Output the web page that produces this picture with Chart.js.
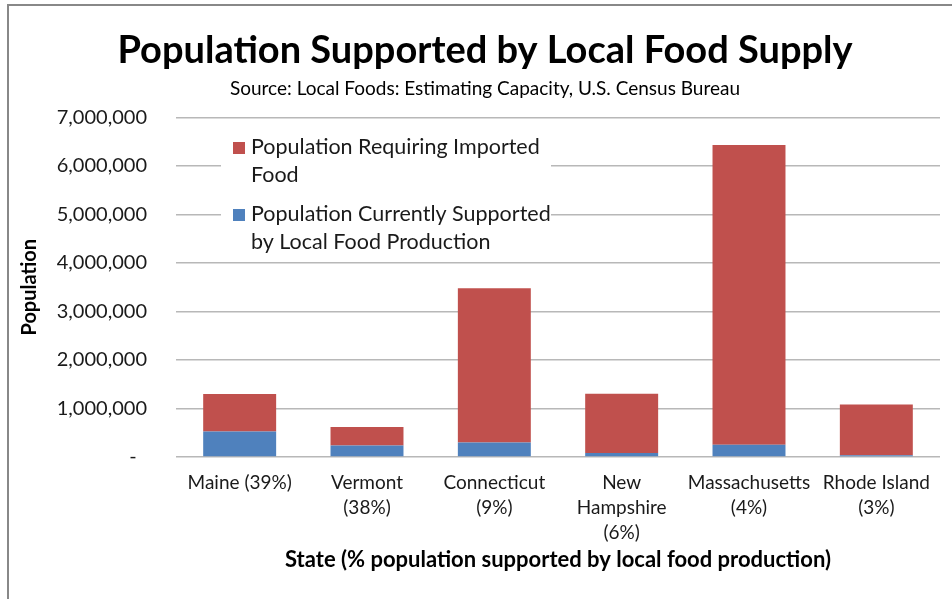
<!DOCTYPE html>
<html lang="en">
<head>
    <meta charset="UTF-8">
    <title>Population Supported by Local Food Supply</title>
    <script src="https://cdn.jsdelivr.net/npm/chart.js"></script>
    <style>
        html, body {
            margin: 0;
            padding: 0;
            background: #ffffff;
            overflow: hidden;
        }
        #wrap {
            position: relative;
            width: 952px;
            height: 599px;
        }
        #frame {
            position: absolute;
            left: 7px;
            top: 4px;
            right: 0;
            bottom: 0;
            border-left: 2px solid #888888;
            border-top: 2px solid #888888;
            pointer-events: none;
        }
    </style>
</head>
<body>
    <div id="wrap">
        <canvas id="foodChart" width="952" height="599"></canvas>
        <div id="frame"></div>
    </div>

    <script>
        // Data
        const states = [
            ['Maine (39%)'],
            ['Vermont', '(38%)'],
            ['Connecticut', '(9%)'],
            ['New', 'Hampshire', '(6%)'],
            ['Massachusetts', '(4%)'],
            ['Rhode Island', '(3%)']
        ];
        const supportedLocal = [525000, 235000, 300000, 80000, 255000, 35000];
        const requiringImport = [775000, 381000, 3180000, 1226000, 6175000, 1045000];
        const seriesNames = ['Population Requiring Imported Food', 'Population Currently Supported by Local Food Production'];
        const legendLines = [
            ['Population Requiring Imported', 'Food'],
            ['Population Currently Supported', 'by Local Food Production']
        ];

        const RED = '#C0504D';
        const BLUE = '#4F81BD';
        const FONT = 'Lato';

        Chart.defaults.font.family = FONT;
        Chart.defaults.color = '#000000';

        // Legend box sitting inside the plot (wrapped labels, white backing)
        const insideLegend = {
            id: 'insideLegend',
            afterDatasetsDraw(chart) {
                const ctx = chart.ctx;
                ctx.save();
                ctx.fillStyle = '#ffffff';
                ctx.fillRect(221, 128, 330, 130);
                const items = [
                    { color: RED, lines: legendLines[0], y: 147 },
                    { color: BLUE, lines: legendLines[1], y: 214 }
                ];
                ctx.font = '21.5px ' + FONT;
                ctx.textBaseline = 'middle';
                ctx.textAlign = 'left';
                items.forEach(item => {
                    ctx.fillStyle = item.color;
                    ctx.fillRect(233, item.y - 5, 12, 12);
                    ctx.fillStyle = '#1a1a1a';
                    item.lines.forEach((line, i) => {
                        ctx.fillText(line, 251, item.y + i * 28);
                    });
                });
                ctx.restore();
            }
        };

        const ctx = document.getElementById('foodChart').getContext('2d');
        const chart = new Chart(ctx, {
            type: 'bar',
            data: {
                labels: states,
                datasets: [
                    {
                        label: seriesNames[1],
                        data: supportedLocal,
                        backgroundColor: BLUE,
                        stack: 'pop'
                    },
                    {
                        label: seriesNames[0],
                        data: requiringImport,
                        backgroundColor: RED,
                        stack: 'pop'
                    }
                ]
            },
            options: {
                responsive: false,
                animation: false,
                layout: {
                    padding: { left: 30, right: 12, top: 0, bottom: 26 }
                },
                datasets: {
                    bar: {
                        barPercentage: 0.573,
                        categoryPercentage: 1.0
                    }
                },
                scales: {
                    x: {
                        stacked: true,
                        afterFit(scale) { scale.height = 116; },
                        grid: { display: false, drawTicks: false },
                        border: { display: false },
                        ticks: {
                            font: { size: 19, lineHeight: 1.316 },
                            color: '#1a1a1a',
                            padding: 13,
                            maxRotation: 0,
                            autoSkip: false
                        },
                        title: {
                            display: true,
                            text: 'State (% population supported by local food production)',
                            font: { size: 22, weight: 'bold' },
                            color: '#000000',
                            padding: { top: 0, bottom: 0 }
                        }
                    },
                    y: {
                        stacked: true,
                        min: 0,
                        max: 7000000,
                        afterFit(scale) { scale.width = 146; },
                        grid: {
                            color: '#b8b8b8',
                            lineWidth: 1.5,
                            drawTicks: false
                        },
                        border: { display: false },
                        ticks: {
                            stepSize: 1000000,
                            padding: 29,
                            font: { size: 20 },
                            color: '#1a1a1a',
                            callback: v => v === 0 ? '-  ' : v.toLocaleString('en-US')
                        },
                        title: {
                            display: true,
                            text: 'Population',
                            font: { size: 20, weight: 'bold' },
                            color: '#000000',
                            padding: { top: -12, bottom: 0 }
                        }
                    }
                },
                plugins: {
                    legend: { display: false },
                    tooltip: { enabled: false },
                    title: {
                        display: true,
                        text: 'Population Supported by Local Food Supply',
                        font: { size: 38, weight: 'bold' },
                        color: '#000000',
                        padding: { top: 28, bottom: 4 }
                    },
                    subtitle: {
                        display: true,
                        text: 'Source: Local Foods: Estimating Capacity, U.S. Census Bureau',
                        font: { size: 19 },
                        color: '#000000',
                        padding: { top: 0, bottom: 17 }
                    }
                }
            },
            plugins: [insideLegend]
        });
    </script>
</body>
</html>
